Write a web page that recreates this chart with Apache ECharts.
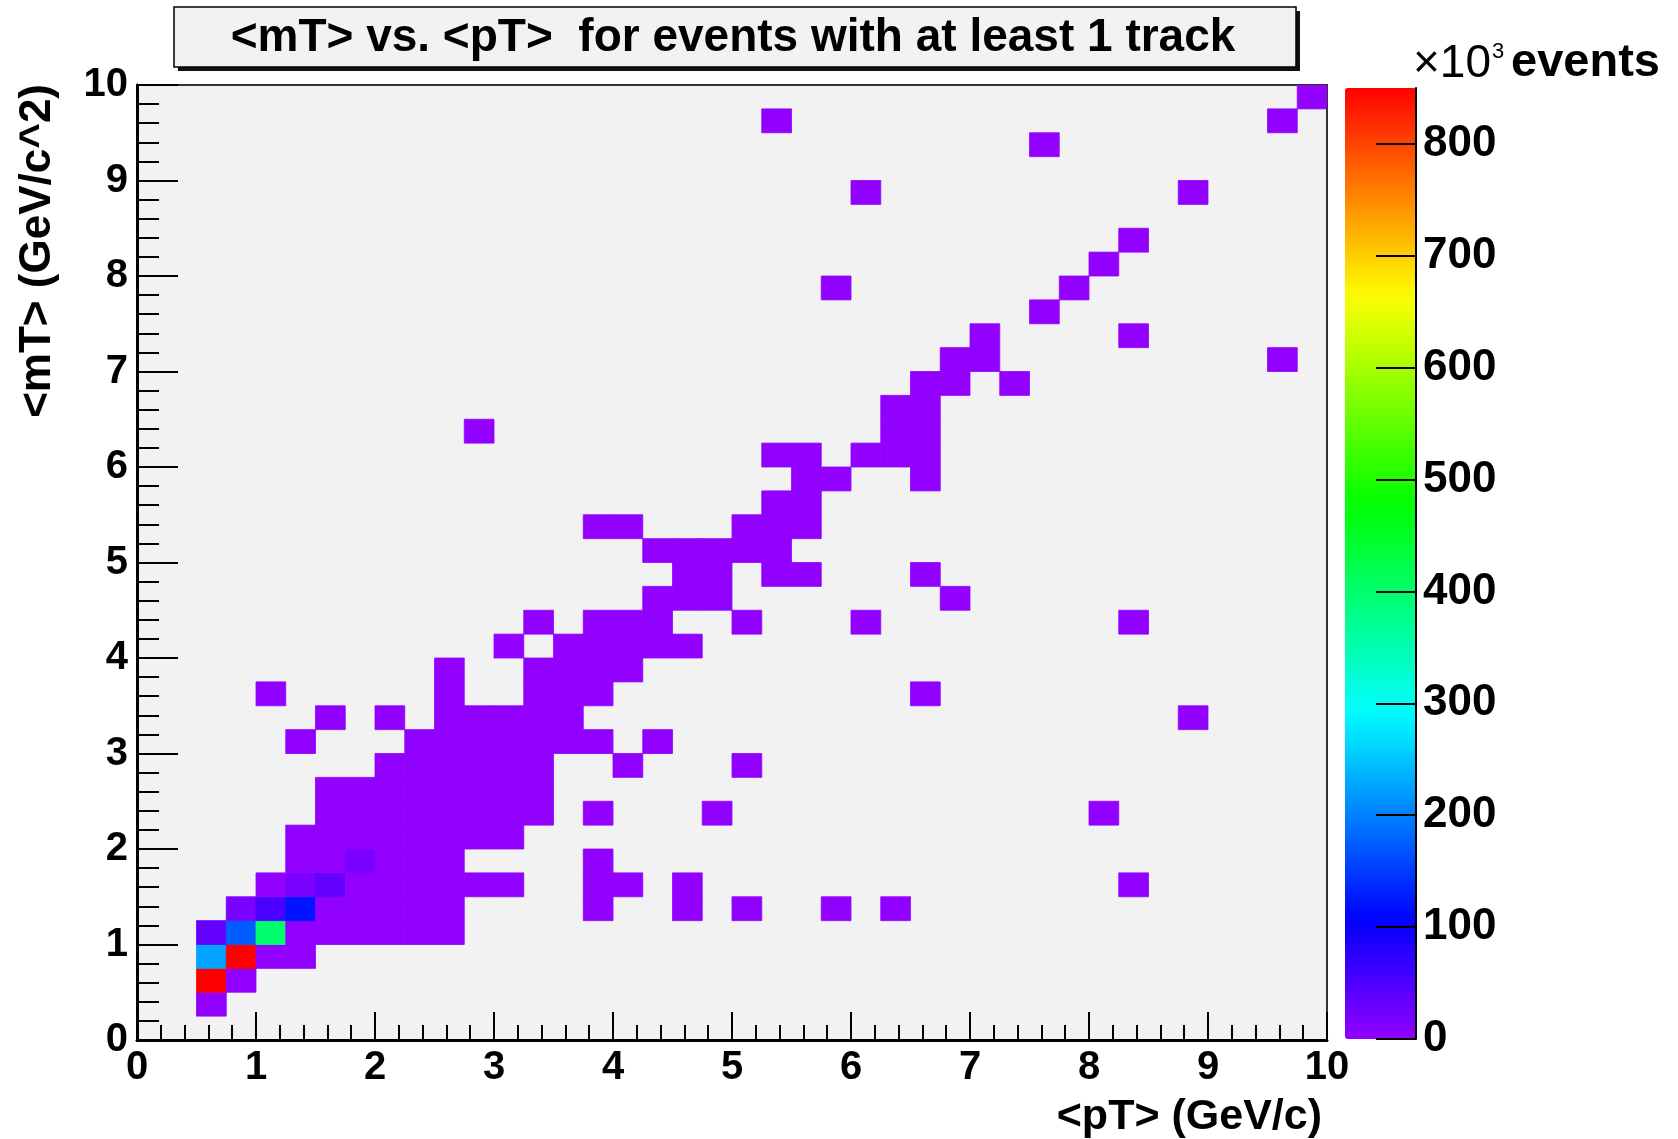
<!DOCTYPE html>
<html>
<head>
<meta charset="utf-8">
<script src="https://cdn.jsdelivr.net/npm/echarts@6/dist/echarts.min.js"></script>
<style>
html,body{margin:0;padding:0;background:#ffffff;}
#chart{width:1678px;height:1139px;}
</style>
</head>
<body>
<div id="chart"></div>
<script>
// ---------------- data (counts in units of 10^3 events) ----------------
const binWidth = 0.25;            // histogram bin width in both <pT> and <mT> (GeV)
const countMax = 850;             // top of the colour scale (x10^3 events)
const paletteLevels = 50;         // ROOT "pretty" palette has 50 discrete levels

// <mT> bin centre of each populated row
const mTRows = [0.375, 0.625, 0.875, 1.125, 1.375, 1.625, 1.875, 2.125, 2.375, 2.625,
                2.875, 3.125, 3.375, 3.625, 3.875, 4.125, 4.375, 4.625, 4.875, 5.125,
                5.375, 5.625, 5.875, 6.125, 6.375, 6.625, 6.875, 7.125, 7.375, 7.625,
                7.875, 8.125, 8.375, 8.875, 9.375, 9.625, 9.875];

// <pT> bin centres of the filled bins in each row
const pTByRow = [
  [0.625],
  [0.625, 0.875],
  [0.625, 0.875, 1.125, 1.375],
  [0.625, 0.875, 1.125, 1.375, 1.625, 1.875, 2.125, 2.375, 2.625],
  [0.875, 1.125, 1.375, 1.625, 1.875, 2.125, 2.375, 2.625, 3.875, 4.625, 5.125, 5.875, 6.375],
  [1.125, 1.375, 1.625, 1.875, 2.125, 2.375, 2.625, 2.875, 3.125, 3.875, 4.125, 4.625, 8.375],
  [1.375, 1.625, 1.875, 2.125, 2.375, 2.625, 3.875],
  [1.375, 1.625, 1.875, 2.125, 2.375, 2.625, 2.875, 3.125],
  [1.625, 1.875, 2.125, 2.375, 2.625, 2.875, 3.125, 3.375, 3.875, 4.875, 8.125],
  [1.625, 1.875, 2.125, 2.375, 2.625, 2.875, 3.125, 3.375],
  [2.125, 2.375, 2.625, 2.875, 3.125, 3.375, 4.125, 5.125],
  [1.375, 2.375, 2.625, 2.875, 3.125, 3.375, 3.625, 3.875, 4.375],
  [1.625, 2.125, 2.625, 2.875, 3.125, 3.375, 3.625, 8.875],
  [1.125, 2.625, 3.375, 3.625, 3.875, 6.625],
  [2.625, 3.375, 3.625, 3.875, 4.125],
  [3.125, 3.625, 3.875, 4.125, 4.375, 4.625],
  [3.375, 3.875, 4.125, 4.375, 5.125, 6.125, 8.375],
  [4.375, 4.625, 4.875, 6.875],
  [4.625, 4.875, 5.375, 5.625, 6.625],
  [4.375, 4.625, 4.875, 5.125, 5.375],
  [3.875, 4.125, 5.125, 5.375, 5.625],
  [5.375, 5.625],
  [5.625, 5.875, 6.625],
  [5.375, 5.625, 6.125, 6.375, 6.625],
  [2.875, 6.375, 6.625],
  [6.375, 6.625],
  [6.625, 6.875, 7.375],
  [6.875, 7.125, 9.625],
  [7.125, 8.375],
  [7.625],
  [5.875, 7.875],
  [8.125],
  [8.375],
  [6.125, 8.875],
  [7.625],
  [5.375, 9.625],
  [9.875]
];

// counts of the same bins (x10^3 events)
const countsByRow = [
  [5],
  [845, 4],
  [223, 840, 5, 1],
  [45, 176, 404, 5, 3, 2, 1, 0.5, 0.2],
  [20, 57, 125, 5, 4, 2.5, 1.2, 0.5, 0.001, 0.001, 0.001, 0.001, 0.001],
  [4, 25, 45, 5, 4, 2.5, 1.2, 0.5, 0.2, 0.002, 0.001, 0.001, 0.001],
  [1.5, 5, 20, 5, 3.5, 2, 0.001],
  [0.3, 1.5, 3.5, 5, 4.5, 3.5, 1.5, 0.4],
  [0.3, 1, 2.5, 4, 4.5, 3, 1.2, 0.3, 0.001, 0.001, 0.001],
  [0.05, 0.3, 1, 2, 3.5, 4, 2.5, 0.8],
  [0.2, 0.5, 1.5, 3, 3, 1.5, 0.001, 0.001],
  [0.001, 0.1, 0.5, 1.5, 2.5, 2, 0.5, 0.05, 0.001],
  [0.001, 0.001, 0.2, 0.5, 1.2, 1.8, 0.8, 0.001],
  [0.001, 0.03, 1, 1, 0.3, 0.001],
  [0.005, 0.4, 0.8, 0.5, 0.05],
  [0.02, 0.3, 0.5, 0.3, 0.05, 0.005],
  [0.005, 0.15, 0.25, 0.1, 0.001, 0.001, 0.001],
  [0.1, 0.2, 0.05, 0.001],
  [0.05, 0.1, 0.02, 0.01, 0.001],
  [0.01, 0.03, 0.06, 0.05, 0.02],
  [0.002, 0.002, 0.02, 0.03, 0.01],
  [0.02, 0.01],
  [0.01, 0.004, 0.001],
  [0.003, 0.005, 0.003, 0.006, 0.004],
  [0.001, 0.004, 0.005],
  [0.003, 0.004],
  [0.002, 0.003, 0.001],
  [0.002, 0.002, 0.001],
  [0.002, 0.001],
  [0.001],
  [0.001, 0.001],
  [0.001],
  [0.001],
  [0.001, 0.001],
  [0.001],
  [0.001, 0.001],
  [0.001]
];

const titleText = '<mT> vs. <pT>  for events with at least 1 track';
const xTitle = '<pT> (GeV/c)';
const yTitle = '<mT> (GeV/c^2)';

// ---------------- styling helpers ----------------
const FONT = '"Liberation Sans", Arial, Helvetica, sans-serif';

// ROOT "pretty" palette: hues from violet to red (s=1, l=0.5)
function hueHex(h) {
  const a = 0.5;
  const f = n => {
    const k = (n + h / 30) % 12;
    return 0.5 - a * Math.max(-1, Math.min(k - 3, 9 - k, 1));
  };
  const to = v => Math.round(v * 255).toString(16).padStart(2, '0');
  return '#' + to(f(0)) + to(f(8)) + to(f(4));
}
const palette = [];
for (let k = 0; k < paletteLevels; k++) palette.push(hueHex(280 - (k + 1) * 280 / paletteLevels));

// build cells
const cells = [];
mTRows.forEach((m, r) => {
  pTByRow[r].forEach((p, idx) => cells.push([p, m, countsByRow[r][idx]]));
});

const chart = echarts.init(document.getElementById('chart'), null, {renderer: 'canvas'});

const axisCommon = {
  type: 'value', min: 0, max: 10, interval: 1,
  splitLine: {show: false},
  axisLine: {show: true, onZero: false, lineStyle: {color: '#000', width: 3}},
  axisLabel: {fontSize: 40, fontWeight: 'bold', color: '#000', fontFamily: FONT}
};

const option = {
  animation: false,
  backgroundColor: '#ffffff',
  grid: [
    {left: 137, top: 85, width: 1190, height: 955, show: true,
     backgroundColor: '#f2f2f2', borderColor: '#333', borderWidth: 2, containLabel: false},
    {left: 1345, top: 88, width: 71, height: 951, show: false, containLabel: false}
  ],
  xAxis: [
    Object.assign({}, axisCommon, {
      gridIndex: 0,
      axisTick: {show: true, inside: true, length: 28, lineStyle: {color: '#000', width: 2}},
      minorTick: {show: true, splitNumber: 5, length: 15, lineStyle: {color: '#000', width: 2}},
      axisLabel: Object.assign({}, axisCommon.axisLabel, {margin: 8})
    }),
    {gridIndex: 1, type: 'value', min: 0, max: 1, show: false}
  ],
  yAxis: [
    Object.assign({}, axisCommon, {
      gridIndex: 0,
      axisTick: {show: true, inside: true, length: 41, lineStyle: {color: '#000', width: 2}},
      minorTick: {show: true, splitNumber: 5, length: 22, lineStyle: {color: '#000', width: 2}},
      axisLabel: Object.assign({}, axisCommon.axisLabel, {margin: 9})
    }),
    {
      gridIndex: 1, type: 'value', position: 'right', min: 0, max: countMax, interval: 100,
      z: 8,
      splitLine: {show: false},
      axisLine: {show: true, onZero: false, lineStyle: {color: '#000', width: 2}},
      axisTick: {show: true, inside: true, length: 40, lineStyle: {color: '#000', width: 2}},
      axisLabel: {fontSize: 44, fontWeight: 'bold', color: '#000', fontFamily: FONT, margin: 7,
                  showMaxLabel: false}
    }
  ],
  visualMap: [
    { // discrete 50-level colouring of the histogram cells
      type: 'piecewise', show: false, min: 0, max: countMax, splitNumber: paletteLevels,
      dimension: 2, seriesIndex: 0,
      inRange: {color: palette}
    },
    { // colour bar (z axis) drawn next to the plot
      type: 'continuous', min: 0, max: countMax, seriesIndex: 1, z: 2,
      calculable: false, hoverLink: false, realtime: false,
      orient: 'vertical', left: 1345, top: 88, itemWidth: 71, itemHeight: 951,
      padding: 0, text: null,
      inRange: {color: palette}
    }
  ],
  series: [
    {
      type: 'custom',
      coordinateSystem: 'cartesian2d',
      xAxisIndex: 0, yAxisIndex: 0,
      clip: true,
      data: cells,
      renderItem: function (params, api) {
        const x = api.value(0), y = api.value(1), h = binWidth / 2;
        const p0 = api.coord([x - h, y + h]);
        const p1 = api.coord([x + h, y - h]);
        const c = api.visual('color');
        return {
          type: 'rect',
          shape: {x: p0[0], y: p0[1], width: p1[0] - p0[0], height: p1[1] - p0[1]},
          style: {fill: c, stroke: c, lineWidth: 0.8}
        };
      }
    },
    {
      type: 'custom', coordinateSystem: 'cartesian2d', xAxisIndex: 1, yAxisIndex: 1,
      data: [], renderItem: function () { return null; }
    }
  ],
  graphic: [
    {type: 'rect', z: 10, shape: {x: 178, y: 11, width: 1122, height: 60}, style: {fill: '#111'}},
    {type: 'rect', z: 11, shape: {x: 174, y: 7, width: 1122, height: 60},
     style: {fill: '#f2f2f2', stroke: '#000', lineWidth: 1.5}},
    {type: 'text', z: 12, x: 733, y: 38,
     style: {text: titleText, font: 'bold 46px ' + FONT, fill: '#000',
             align: 'center', verticalAlign: 'middle', textAlign: 'center', textVerticalAlign: 'middle'}},
    {type: 'text', z: 12, x: 1322, y: 1117,
     style: {text: xTitle, font: 'bold 43px ' + FONT, fill: '#000',
             align: 'right', verticalAlign: 'middle', textAlign: 'right', textVerticalAlign: 'middle'}},
    {type: 'text', z: 12, x: 38, y: 84, rotation: Math.PI / 2,
     style: {text: yTitle, font: 'bold 44px ' + FONT, fill: '#000',
             align: 'right', verticalAlign: 'middle', textAlign: 'right', textVerticalAlign: 'middle'}},
    {type: 'text', z: 12, x: 1413, y: 64,
     style: {text: '\u00d710', font: '46px ' + FONT, fill: '#000',
             align: 'left', verticalAlign: 'middle', textAlign: 'left', textVerticalAlign: 'middle'}},
    {type: 'text', z: 12, x: 1492, y: 52,
     style: {text: '3', font: '22px ' + FONT, fill: '#000',
             align: 'left', verticalAlign: 'middle', textAlign: 'left', textVerticalAlign: 'middle'}},
    {type: 'text', z: 12, x: 1511, y: 63,
     style: {text: 'events', font: 'bold 47px ' + FONT, fill: '#000',
             align: 'left', verticalAlign: 'middle', textAlign: 'left', textVerticalAlign: 'middle'}}
  ]
};

chart.setOption(option);
</script>
</body>
</html>
